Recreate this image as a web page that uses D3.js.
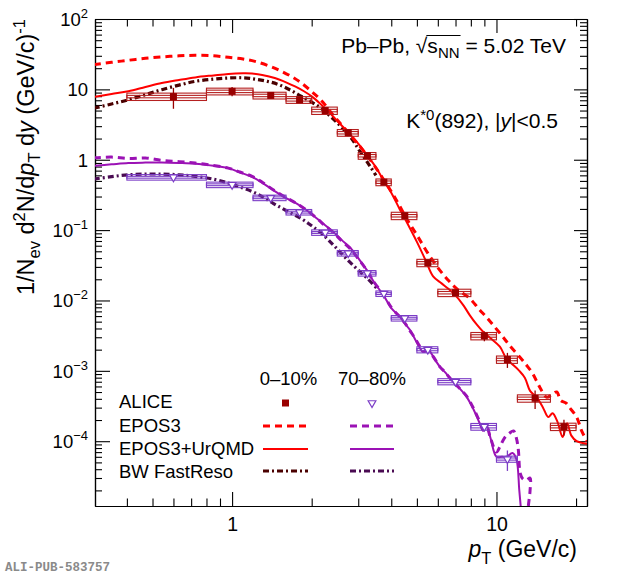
<!DOCTYPE html>
<html><head><meta charset="utf-8">
<script src="https://cdn.jsdelivr.net/npm/d3@7"></script>
<style>body{margin:0;background:#fff}</style>
</head><body>
<svg id="c" width="620" height="577"></svg>
<script>
// ---------------- data ----------------
const binLo = [0.4,0.8,1.2,1.6,2.0,2.5,3.0,3.5,4.0,5.0,6.0,8.0,10,12,16];
const binHi = [0.8,1.2,1.6,2.0,2.5,3.0,3.5,4.0,5.0,6.0,8.0,10,12,16,20];
const alice010 = [7.9,9.37,8.2,7.1,5.0,2.42,1.14,0.48,0.16,0.0343,0.0129,0.00313,0.00145,0.000407,0.000161];
const alice010Stat = [2.6,1.4,0.3,0.25,0.15,0.07,0.03,0.015,0.005,0.0015,0.001,0.0005,0.00035,0.00012,0.00004];
const alice010Sys = [0.12,0.11,0.11,0.11,0.12,0.11,0.11,0.11,0.12,0.12,0.12,0.12,0.12,0.12,0.12];
const alice010SysU = [0.04,0.04,0.04,0.04,0.04,0.04,0.04,0.04,0.04,0.04,0.04,0.04,0.04,0.04,0.04];
const alice7080 = [0.564,0.441,0.288,0.18,0.0925,0.047,0.0244,0.01253,0.0056,0.002,0.000703,0.000161,0.0000558];
const alice7080Stat = [0.01,0.01,0.005,0.003,0.002,0.001,0.0005,0.0003,0.0001,0.00005,0.00002,0.00002,0.000018];
const alice7080Sys = [0.09,0.09,0.09,0.09,0.09,0.09,0.09,0.09,0.09,0.1,0.1,0.11,0.1];
const alice7080SysU = [0.03,0.03,0.03,0.03,0.03,0.03,0.03,0.03,0.03,0.035,0.035,0.04,0.035];

const epos3_010_pt = [0.3,0.35,0.405,0.47,0.542,0.63,0.725,0.85,0.968,1.1,1.22,1.38,1.54,1.7,1.83,2.0,2.18,2.45,2.8,3.2,3.7,4.2,4.6,5.0,5.5,6.1,6.6,7.1,7.9,8.6,9.2,9.8,10.6,11.2,12.2,13.0,13.7,14.6,15.5,16.2,16.9,17.5,18.3,18.9,20.1,21.0,22];
const epos3_010 = [22.5,24.2,25.9,27.6,28.9,30,30.5,30,28.5,27,25,21.5,18,14.8,12.3,9.3,6.9,4.0,2.25,1.22,0.56,0.26,0.14,0.085,0.047,0.027,0.019,0.0145,0.0108,0.0075,0.0057,0.0043,0.003,0.0023,0.0016,0.0012,0.00092,0.00058,0.00042,0.00046,0.0005,0.00038,0.00035,0.0003,0.00022,0.00014,0.0001];

const urqmd_010_pt = [0.3,0.35,0.405,0.47,0.542,0.63,0.725,0.85,0.968,1.1,1.19,1.3,1.45,1.6,1.73,1.87,2.0,2.15,2.31,2.5,2.75,3.0,3.25,3.5,3.75,4.0,4.3,4.6,5.0,5.4,5.76,6.2,6.6,7.0,7.5,7.92,8.4,8.9,9.5,10.3,10.9,11.6,12.2,12.8,13.4,14.2,15.0,15.7,16.3,17.0,17.8,18.5,19.2,20.1,21.0,22];
const urqmd_010 = [7.8,8.6,9.4,10.8,12.3,13.6,14.8,15.8,16.6,16.9,16.8,16.0,14.5,12.6,11,9.4,7.95,6.3,4.86,3.55,2.45,1.7,1.15,0.78,0.5,0.34,0.2,0.125,0.068,0.037,0.022,0.0175,0.0145,0.0118,0.0085,0.0062,0.0046,0.0036,0.0029,0.0022,0.0015,0.0012,0.001,0.0008,0.00052,0.00042,0.0003,0.00022,0.00025,0.00019,0.000115,0.00018,0.00012,0.0001,0.000095,0.000092];

const bw_010_pt = [0.3,0.35,0.405,0.47,0.542,0.63,0.725,0.85,0.968,1.1,1.22,1.36,1.5,1.66,1.83,2.0,2.18,2.45,2.79,3.05,3.33,3.5];
const bw_010 = [5.4,6.2,7.1,8.4,9.9,11.5,13,14,14.5,14.6,14,13,11.7,9.8,7.95,6.6,5.3,3.6,2.15,1.3,0.8,0.6];

const epos3_7080_pt = [0.3,0.35,0.405,0.47,0.542,0.63,0.725,0.85,0.968,1.07,1.19,1.3,1.43,1.6,1.75,1.92,2.1,2.25,2.41,2.6,2.79,3.0,3.23,3.45,3.73,4.0,4.31,4.5,4.71,4.95,5.1,5.28,5.45,5.6,5.76,6.1,6.4,6.85,7.2,7.7,8.2,8.64,8.9,9.17,9.5,10.0,10.3,10.7,11.2,11.6,11.9,12.1,12.3,12.6,13.0,13.4,13.4,13.2,13.1];
const epos3_7080 = [1.06,1.09,1.04,1.06,0.98,0.94,0.897,0.83,0.76,0.67,0.58,0.48,0.375,0.29,0.24,0.19,0.145,0.115,0.093,0.07,0.055,0.039,0.027,0.018,0.0122,0.008,0.0058,0.0048,0.0037,0.0028,0.0023,0.0019,0.0019,0.0018,0.0016,0.00115,0.00095,0.0007,0.00058,0.00044,0.00029,0.00019,0.00015,0.00016,0.00011,0.00007,0.000083,0.00011,0.00013,0.00014,0.00011,0.000075,0.000035,0.000029,0.000028,0.00003,0.00002,0.000012,0.000008];

const urqmd_7080_pt = [0.3,0.35,0.405,0.47,0.542,0.63,0.725,0.85,0.968,1.07,1.19,1.3,1.43,1.6,1.75,1.92,2.1,2.25,2.41,2.6,2.79,3.0,3.23,3.45,3.73,4.0,4.31,4.5,4.71,4.95,5.1,5.28,5.45,5.6,5.76,6.1,6.4,6.85,7.2,7.7,8.2,8.64,8.9,9.17,9.5,10.0,10.5,10.9,11.5,11.9,12.2,12.4];
const urqmd_7080 = [0.82,0.86,0.897,0.91,0.915,0.9,0.877,0.82,0.76,0.66,0.57,0.47,0.37,0.285,0.24,0.19,0.145,0.117,0.095,0.072,0.057,0.04,0.0272,0.018,0.012,0.0078,0.0059,0.0047,0.0038,0.0027,0.0022,0.00185,0.0021,0.0019,0.0016,0.00115,0.00095,0.0007,0.00058,0.00043,0.00028,0.00018,0.00014,0.00017,0.00011,0.00006,0.00006,0.00006,0.000068,0.000055,0.00002,0.00001];

const bw_7080_pt = [0.3,0.35,0.405,0.47,0.542,0.63,0.725,0.85,0.968,1.07,1.19,1.3,1.43,1.6,1.83,2.0,2.18,2.41,2.6,2.79,3.0,3.23,3.52];
const bw_7080 = [0.53,0.575,0.61,0.625,0.626,0.61,0.58,0.53,0.466,0.41,0.354,0.3,0.24,0.19,0.145,0.115,0.09,0.062,0.046,0.035,0.027,0.021,0.015];

const yTickVals = [1e-4,1e-3,1e-2,1e-1,1,10,100];
const yTickLabels = [["10","−4"],["10","−3"],["10","−2"],["10","−1"],["1",""],["10",""],["10","2"]];
const xTickVals = [1,10];
const xTickLabels = ["1","10"];
const legendNames = ["ALICE","EPOS3","EPOS3+UrQMD","BW FastReso"];
const centLabels = ["0–10%","70–80%"];

// ---------------- setup ----------------
const FONT = "'Liberation Sans', Arial, Helvetica, sans-serif";
const svg = d3.select("#c");
const L = 95, R = 587, T = 19, B = 506;
const x = d3.scaleLog().domain([0.303, 22]).range([L, R]);
const y = d3.scaleLog().domain([1.2e-5, 100]).range([B, T]);

const C = {
  d010: "#990000", box010: "#b52020",
  d7080: "#7b3cc6",
  red: "#ff0000", bw010: "#4a0000",
  purp: "#9b12b5", bw7080: "#4a0b52"
};

svg.append("defs").append("clipPath").attr("id","clip")
  .append("rect").attr("x",L).attr("y",T).attr("width",R-L).attr("height",B-T);

// ---------------- axes ----------------
function styleAxis(g){
  g.selectAll("path.domain").attr("stroke","#000").attr("stroke-width",1.2);
  g.selectAll(".tick line").attr("stroke","#000").attr("stroke-width",1.1);
}
const yMinor = y.ticks().filter(v => !yTickVals.some(t => Math.abs(Math.log10(v/t))<1e-6));
const xMinor = x.ticks().filter(v => !xTickVals.some(t => Math.abs(Math.log10(v/t))<1e-6));

// left
svg.append("g").attr("transform",`translate(${L},0)`)
  .call(d3.axisLeft(y).tickValues(yMinor).tickSize(-7).tickSizeOuter(0).tickFormat(""))
  .call(styleAxis);
const gyl = svg.append("g").attr("transform",`translate(${L},0)`)
  .call(d3.axisLeft(y).tickValues(yTickVals).tickSize(-15).tickSizeOuter(0).tickPadding(7).tickFormat(""))
  .call(styleAxis);
gyl.selectAll(".tick text").each(function(d,i){
  const t = d3.select(this).attr("font-family",FONT).attr("font-size",18.5).attr("fill","#000").attr("dy","0.34em");
  const lab = yTickLabels[i];
  t.append("tspan").text(lab[0]);
  if (lab[1]) t.append("tspan").attr("font-size",13).attr("dy",-8).text(lab[1]);
});
// right
svg.append("g").attr("transform",`translate(${R},0)`)
  .call(d3.axisRight(y).tickValues(yMinor).tickSize(-7).tickSizeOuter(0).tickFormat(""))
  .call(styleAxis);
svg.append("g").attr("transform",`translate(${R},0)`)
  .call(d3.axisRight(y).tickValues(yTickVals).tickSize(-13).tickSizeOuter(0).tickFormat(""))
  .call(styleAxis);
// bottom
svg.append("g").attr("transform",`translate(0,${B})`)
  .call(d3.axisBottom(x).tickValues(xMinor).tickSize(-7.5).tickSizeOuter(0).tickFormat(""))
  .call(styleAxis);
const gxb = svg.append("g").attr("transform",`translate(0,${B})`)
  .call(d3.axisBottom(x).tickValues(xTickVals).tickSize(-14).tickSizeOuter(0).tickPadding(11).tickFormat((d,i)=>xTickLabels[i]))
  .call(styleAxis);
gxb.selectAll(".tick text").attr("font-family",FONT).attr("font-size",19.5).attr("fill","#000");
// top
svg.append("g").attr("transform",`translate(0,${T})`)
  .call(d3.axisTop(x).tickValues(xMinor).tickSize(-7.5).tickSizeOuter(0).tickFormat(""))
  .call(styleAxis);
svg.append("g").attr("transform",`translate(0,${T})`)
  .call(d3.axisTop(x).tickValues(xTickVals).tickSize(-14).tickSizeOuter(0).tickFormat(""))
  .call(styleAxis);

// ---------------- models ----------------
const plot = svg.append("g").attr("clip-path","url(#clip)");
const line = d3.line().x(d=>x(d[0])).y(d=>y(d[1])).curve(d3.curveCatmullRom.alpha(0.5));
const zip = (a,b) => a.map((v,i)=>[v,b[i]]);
const styles = {
  dash: {w:3, dash:"7,5"},
  solid:{w:2, dash:null},
  dashdot:{w:3.2, dash:"6,3,2,3"}
};
function drawModel(pts, vals, color, st){
  plot.append("path").datum(zip(pts,vals)).attr("d",line)
    .attr("fill","none").attr("stroke",color).attr("stroke-width",styles[st].w)
    .attr("stroke-dasharray",styles[st].dash);
}
drawModel(bw_010_pt, bw_010, C.bw010, "dashdot");
drawModel(bw_7080_pt, bw_7080, C.bw7080, "dashdot");
drawModel(epos3_010_pt, epos3_010, C.red, "dash");
drawModel(urqmd_010_pt, urqmd_010, C.red, "solid");
drawModel(epos3_7080_pt, epos3_7080, C.purp, "dash");
drawModel(urqmd_7080_pt, urqmd_7080, C.purp, "solid");

// ---------------- data ----------------
function drawData(vals, stat, sys, sysU, color, boxColor, marker){
  const g = svg.append("g");
  vals.forEach((v,i)=>{
    const x0 = x(binLo[i]), x1 = x(binHi[i]);
    g.append("rect").attr("x",x0).attr("width",x1-x0)
      .attr("y",y(v*(1+sys[i]))).attr("height",y(v*(1-sys[i]))-y(v*(1+sys[i])))
      .attr("fill","none").attr("stroke",boxColor).attr("stroke-width",1.1);
    g.append("rect").attr("x",x0).attr("width",x1-x0)
      .attr("y",y(v*(1+sysU[i]))).attr("height",y(v*(1-sysU[i]))-y(v*(1+sysU[i])))
      .attr("fill","none").attr("stroke",boxColor).attr("stroke-width",1.1);
    const xc = x((binLo[i]+binHi[i])/2);
    g.append("line").attr("x1",xc).attr("x2",xc)
      .attr("y1",y(v+stat[i])).attr("y2",y(Math.max(v-stat[i], 1e-9)))
      .attr("stroke",color).attr("stroke-width",1.3);
    drawMarker(g, xc, y(v), color, marker);
  });
}
function drawMarker(g, cx, cy, color, marker){
  if (marker==="square"){
    g.append("path").attr("d", d3.symbol(d3.symbolSquare, 49)())
      .attr("transform",`translate(${cx},${cy})`).attr("fill",color);
  } else {
    g.append("path").attr("d", d3.symbol(d3.symbolTriangle, 26)())
      .attr("transform",`translate(${cx},${cy}) rotate(180)`)
      .attr("fill","#fff").attr("stroke",color).attr("stroke-width",1.2);
  }
}
drawData(alice010, alice010Stat, alice010Sys, alice010SysU, C.d010, C.box010, "square");
drawData(alice7080, alice7080Stat, alice7080Sys, alice7080SysU, C.d7080, C.d7080, "tri");

// ---------------- legend ----------------
const lg = svg.append("g").attr("font-family",FONT).attr("font-size",18.5).attr("fill","#000");
const rowY = [408, 431.5, 455, 477.5];
const symY = [403, 426, 449, 471];
legendNames.forEach((n,i)=> lg.append("text").attr("x",119).attr("y",rowY[i]).text(n));
const colX = [[263,308],[350,394]];
const colC = [[C.d010,C.red,C.red,C.bw010],[C.d7080,C.purp,C.purp,C.bw7080]];
centLabels.forEach((c,j)=>{
  lg.append("text").attr("x",(colX[j][0]+colX[j][1])/2+ (j===0?3:0)).attr("y",385).attr("text-anchor","middle").text(c);
  drawMarker(lg, (colX[j][0]+colX[j][1])/2, symY[0], colC[j][0], j===0?"square":"tri");
  ["dash","solid","dashdot"].forEach((st,k)=>{
    lg.append("line").attr("x1",colX[j][0]).attr("x2",colX[j][1]).attr("y1",symY[k+1]).attr("y2",symY[k+1])
      .attr("stroke",colC[j][k+1]).attr("stroke-width",styles[st].w).attr("stroke-dasharray",styles[st].dash);
  });
});

// ---------------- texts ----------------
const t1 = svg.append("text").attr("font-family",FONT).attr("font-size",21).attr("fill","#000")
  .attr("x",566).attr("y",53).attr("text-anchor","end");
t1.append("tspan").text("Pb–Pb, √s");
t1.append("tspan").attr("font-size",15).attr("dy",5).text("NN");
t1.append("tspan").attr("dy",-5).text(" = 5.02 TeV");
// overline for sqrt
{
  const node = t1.node();
  const e0 = node.getExtentOfChar(7), e1 = node.getExtentOfChar(10);
  svg.append("line").attr("x1",e0.x+e0.width-1).attr("x2",e1.x+e1.width+1)
    .attr("y1",e0.y+1.5).attr("y2",e0.y+1.5).attr("stroke","#000").attr("stroke-width",1.2);
}
const t2 = svg.append("text").attr("font-family",FONT).attr("font-size",21).attr("fill","#000")
  .attr("x",558).attr("y",128).attr("text-anchor","end");
t2.append("tspan").text("K");
t2.append("tspan").attr("font-size",15).attr("dy",-8).text("*0");
t2.append("tspan").attr("dy",8).text("(892), |");
t2.append("tspan").attr("font-style","italic").text("y");
t2.append("tspan").text("|<0.5");

// y title
const yt = svg.append("text").attr("font-family",FONT).attr("font-size",23.5).attr("fill","#000")
  .attr("text-anchor","end").attr("transform","translate(34,19) rotate(-90)");
yt.append("tspan").text("1/N");
yt.append("tspan").attr("font-size",16.5).attr("dy",6).text("ev");
yt.append("tspan").attr("dy",-6).text(" d");
yt.append("tspan").attr("font-size",16.5).attr("dy",-9).text("2");
yt.append("tspan").attr("dy",9).text("N/d");
yt.append("tspan").attr("font-style","italic").text("p");
yt.append("tspan").attr("font-size",16.5).attr("dy",6).text("T");
yt.append("tspan").attr("dy",-6).text(" d");
yt.append("tspan").attr("font-style","italic").text("y");
yt.append("tspan").text(" (GeV/c)");
yt.append("tspan").attr("font-size",16.5).attr("dy",-9).text("-1");

// x title
const xt = svg.append("text").attr("font-family",FONT).attr("font-size",23).attr("fill","#000")
  .attr("text-anchor","end").attr("x",577).attr("y",557);
xt.append("tspan").attr("font-style","italic").text("p");
xt.append("tspan").attr("font-size",16.5).attr("dy",7).text("T");
xt.append("tspan").attr("dy",-7).text(" (GeV/c)");

svg.append("text").attr("x",5).attr("y",571).attr("font-family","'Liberation Mono', 'DejaVu Sans Mono', monospace")
  .attr("font-weight","bold").attr("font-size",12.5).attr("fill","#8a8a8a").text("ALI-PUB-583757");
</script></body></html>
